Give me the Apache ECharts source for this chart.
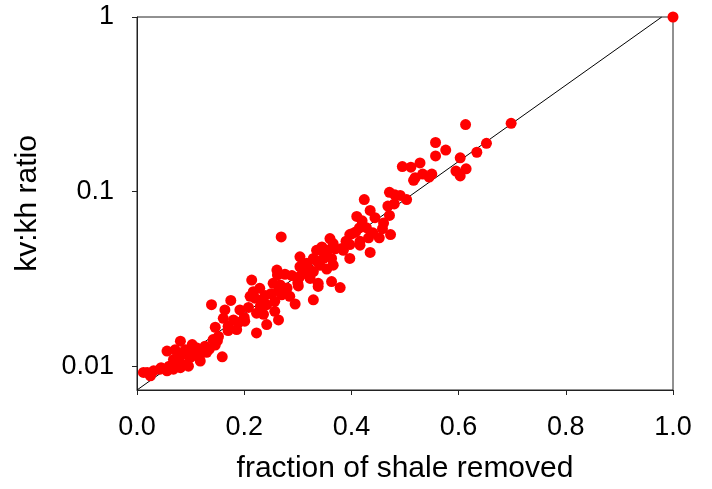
<!DOCTYPE html>
<html>
<head>
<meta charset="utf-8">
<script src="https://cdn.jsdelivr.net/npm/echarts@6/dist/echarts.min.js"></script>
<style>
  html, body { margin: 0; padding: 0; background: #fff; }
  #chart { width: 712px; height: 489px; }
</style>
</head>
<body>
<div id="chart"></div>
<script type="text/javascript">
    // fraction of shale removed (x) and kv:kh ratio (y)
    var shaleRemoved = [
        1.0, 0.698, 0.613, 0.652, 0.634, 0.557, 0.576, 0.557, 0.528, 0.603,
        0.614, 0.595, 0.603, 0.550, 0.533, 0.545, 0.495, 0.511, 0.516, 0.519,
        0.471, 0.481, 0.491, 0.503, 0.424, 0.468, 0.435, 0.471, 0.444, 0.410,
        0.428, 0.415, 0.458, 0.401, 0.473, 0.432, 0.452, 0.416, 0.435, 0.416,
        0.397, 0.360, 0.366, 0.382, 0.345, 0.335, 0.397, 0.363, 0.348, 0.329,
        0.366, 0.341, 0.317, 0.304, 0.354, 0.329, 0.313, 0.323, 0.363, 0.379,
        0.338, 0.269, 0.355, 0.385, 0.304, 0.261, 0.276, 0.289, 0.304, 0.338,
        0.301, 0.214, 0.229, 0.254, 0.267, 0.264, 0.270, 0.239, 0.220, 0.285,
        0.295, 0.329, 0.257, 0.242, 0.262, 0.217, 0.233, 0.211, 0.139, 0.175,
        0.164, 0.192, 0.208, 0.223, 0.236, 0.257, 0.264, 0.161, 0.180, 0.189,
        0.201, 0.146, 0.170, 0.186, 0.242, 0.223, 0.152, 0.142, 0.127, 0.146,
        0.159, 0.081, 0.056, 0.071, 0.090, 0.103, 0.112, 0.121, 0.081, 0.068,
        0.099, 0.118, 0.087, 0.096, 0.081, 0.068, 0.056, 0.043, 0.031, 0.019,
        0.012, 0.025, 0.110, 0.135, 0.397, 0.408, 0.320, 0.335, 0.350, 0.370,
        0.390, 0.300, 0.280, 0.250, 0.230, 0.200, 0.170, 0.150, 0.130, 0.105,
        0.075, 0.060, 0.045, 0.440, 0.460, 0.480, 0.420
    ];
    var kvkhRatio = [
        1, 0.246, 0.242, 0.189, 0.168, 0.191, 0.173, 0.160, 0.146, 0.156,
        0.135, 0.131, 0.123, 0.126, 0.126, 0.121, 0.139, 0.138, 0.116, 0.120,
        0.099, 0.0958, 0.095, 0.090, 0.090, 0.0826, 0.078, 0.073, 0.0709, 0.072,
        0.0621, 0.062, 0.0613, 0.0574, 0.0567, 0.0543, 0.0543, 0.0493, 0.0448, 0.0519,
        0.0497, 0.0538, 0.0504, 0.0472, 0.0482, 0.0461, 0.0414, 0.0414, 0.0414, 0.0414,
        0.0379, 0.0378, 0.0388, 0.0423, 0.0360, 0.0348, 0.0340, 0.0318, 0.0305, 0.0282,
        0.0298, 0.055, 0.0461, 0.0461, 0.0371, 0.0355, 0.0336, 0.0330, 0.0327, 0.0286,
        0.0288, 0.0311, 0.0279, 0.0298, 0.0292, 0.0270, 0.0256, 0.0254, 0.0245, 0.0251,
        0.0227, 0.0240, 0.0235, 0.0225, 0.0333, 0.0267, 0.0240, 0.0251, 0.0225, 0.0238,
        0.0210, 0.0210, 0.0217, 0.0201, 0.0198, 0.0206, 0.0184, 0.0188, 0.0184, 0.0177,
        0.0181, 0.0167, 0.0169, 0.0162, 0.0173, 0.0155, 0.0148, 0.0142, 0.0130, 0.0132,
        0.0113, 0.0139, 0.0122, 0.0124, 0.0124, 0.0133, 0.0127, 0.0119, 0.0114, 0.0109,
        0.0112, 0.0107, 0.0102, 0.0100, 0.0098, 0.0096, 0.0094, 0.0096, 0.0094, 0.0092,
        0.0092, 0.0088, 0.0115, 0.0125, 0.0567, 0.0587, 0.0360, 0.0400, 0.0440, 0.0470,
        0.0520, 0.0300, 0.0280, 0.0260, 0.0220, 0.0190, 0.0160, 0.0140, 0.0120, 0.0118,
        0.0105, 0.0100, 0.0098, 0.0580, 0.0660, 0.0850, 0.0680
    ];
    // reference line
    var lineX = [0, 0.979];
    var lineY = [0.0073, 1];
    var yTicks = [0.01, 0.1, 1];

    var points = [];
    for (var i = 0; i < shaleRemoved.length; i++) {
        points.push([shaleRemoved[i], kvkhRatio[i]]);
    }
    var linePts = [];
    for (var j = 0; j < lineX.length; j++) {
        linePts.push([lineX[j], lineY[j]]);
    }

    var font = 'Liberation Sans, Arial, sans-serif';
    var myChart = echarts.init(document.getElementById('chart'));
    myChart.setOption({
        animation: false,
        backgroundColor: '#fff',
        grid: {
            left: 137, top: 17, right: 39, bottom: 97,
            show: true, borderColor: '#222', borderWidth: 1, backgroundColor: 'transparent'
        },
        xAxis: {
            type: 'value',
            min: 0, max: 1, interval: 0.2,
            name: 'fraction of shale removed',
            nameLocation: 'middle',
            nameGap: 64,
            nameTextStyle: { fontSize: 30, color: '#000', fontFamily: font },
            axisLine: { lineStyle: { color: '#222', width: 1 } },
            axisTick: { show: true, inside: false, length: 5, lineStyle: { color: '#222' } },
            axisLabel: {
                fontSize: 27, color: '#000', fontFamily: font, margin: 24,
                formatter: function (v) { return v.toFixed(1); }
            },
            splitLine: { show: false }
        },
        yAxis: {
            type: 'log',
            logBase: 10,
            min: 0.0073, max: 1,
            name: 'kv:kh ratio',
            nameLocation: 'middle',
            nameGap: 94,
            nameTextStyle: { fontSize: 30, color: '#000', fontFamily: font },
            axisLine: { lineStyle: { color: '#222', width: 1 } },
            axisTick: { show: true, inside: false, length: 5, lineStyle: { color: '#222' }, customValues: yTicks },
            minorTick: { show: false },
            axisLabel: {
                fontSize: 27, color: '#000', fontFamily: font, margin: 23,
                customValues: yTicks,
                formatter: function (v) { return String(+Number(v).toPrecision(2)); }
            },
            splitLine: { show: false }
        },
        series: [
            {
                type: 'line',
                data: linePts,
                showSymbol: false,
                symbol: 'none',
                silent: true,
                lineStyle: { color: '#000', width: 1 },
                z: 1
            },
            {
                type: 'scatter',
                data: points,
                symbolSize: 11,
                clip: false,
                itemStyle: { color: '#ff0000', opacity: 1 },
                z: 2
            }
        ]
    });
</script>
</body>
</html>
